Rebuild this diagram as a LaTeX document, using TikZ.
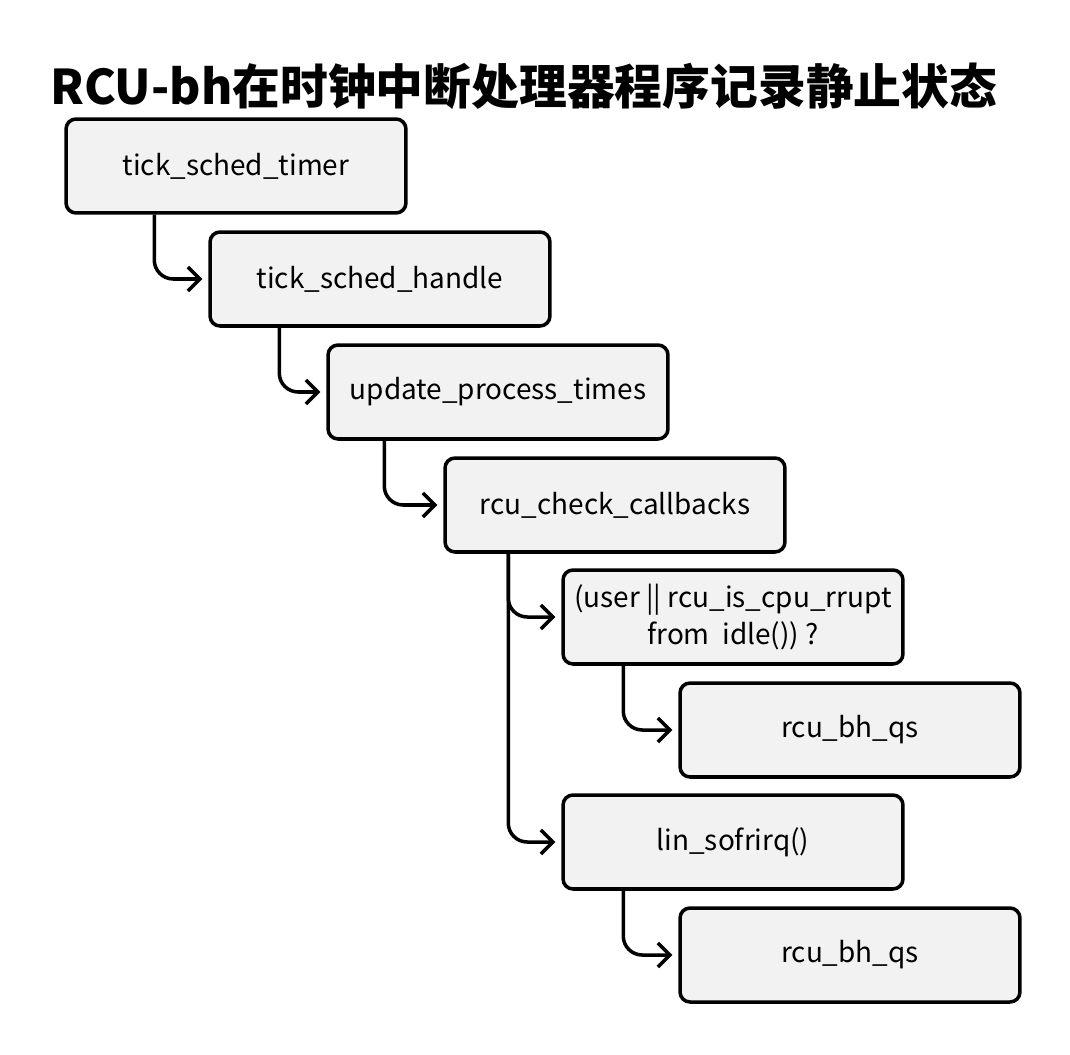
\documentclass[tikz,border=0pt]{standalone}
\usepackage{fontspec}
\setmainfont{Noto Sans CJK SC}
\usetikzlibrary{arrows.meta}
\tikzset{
  fnbox/.style={draw=black, line width=2pt, rounded corners=0.2cm, fill=gray!10,
    minimum width=6.8cm, minimum height=1.88cm, align=center, font=\fontsize{15.9}{21.5}\selectfont},
  callarr/.style={-{Straight Barb[length=0.24cm,width=0.48cm,line width=2pt]}, line width=2pt,
    rounded corners=0.38cm, shorten >=0.12cm}
}
\begin{document}
\begin{tikzpicture}[x=0.02cm, y=-0.02cm]

  \useasboundingbox (0,0) rectangle (1070,1054);

  % title
  \node[anchor=west, font=\fontsize{27.2}{32}\selectfont\bfseries] (title) at (44,86)
    {RCU-bh在时钟中断处理器程序记录静止状态};

  % call chain
  \node[fnbox] (timer)  at (236,166) {tick\_sched\_timer};
  \node[fnbox] (handle) at (380,279) {tick\_sched\_handle};
  \node[fnbox] (update) at (498,392) {update\_process\_times};
  \node[fnbox] (check)  at (615,505) {rcu\_check\_callbacks};
  \node[fnbox] (cond)   at (733,617) {(user || rcu\_is\_cpu\_rrupt\\from\ \ idle()) ?};
  \node[fnbox] (qsa)    at (850,730) {rcu\_bh\_qs};
  \node[fnbox] (softirq) at (733,842) {lin\_sofrirq()};
  \node[fnbox] (qsb)    at (850,955) {rcu\_bh\_qs};

  % connectors
  \draw[callarr] ([xshift=1.8cm]timer.south west) |- (handle.west);
  \draw[callarr] ([xshift=1.42cm]handle.south west) |- (update.west);
  \draw[callarr] ([xshift=1.16cm]update.south west) |- (check.west);
  \draw[callarr] ([xshift=1.3cm]check.south west) |- (cond.west);
  \draw[callarr] ([xshift=1.3cm]check.south west) |- (softirq.west);
  \draw[callarr] ([xshift=1.24cm]cond.south west) |- (qsa.west);
  \draw[callarr] ([xshift=1.24cm]softirq.south west) |- (qsb.west);

\end{tikzpicture}
\end{document}
